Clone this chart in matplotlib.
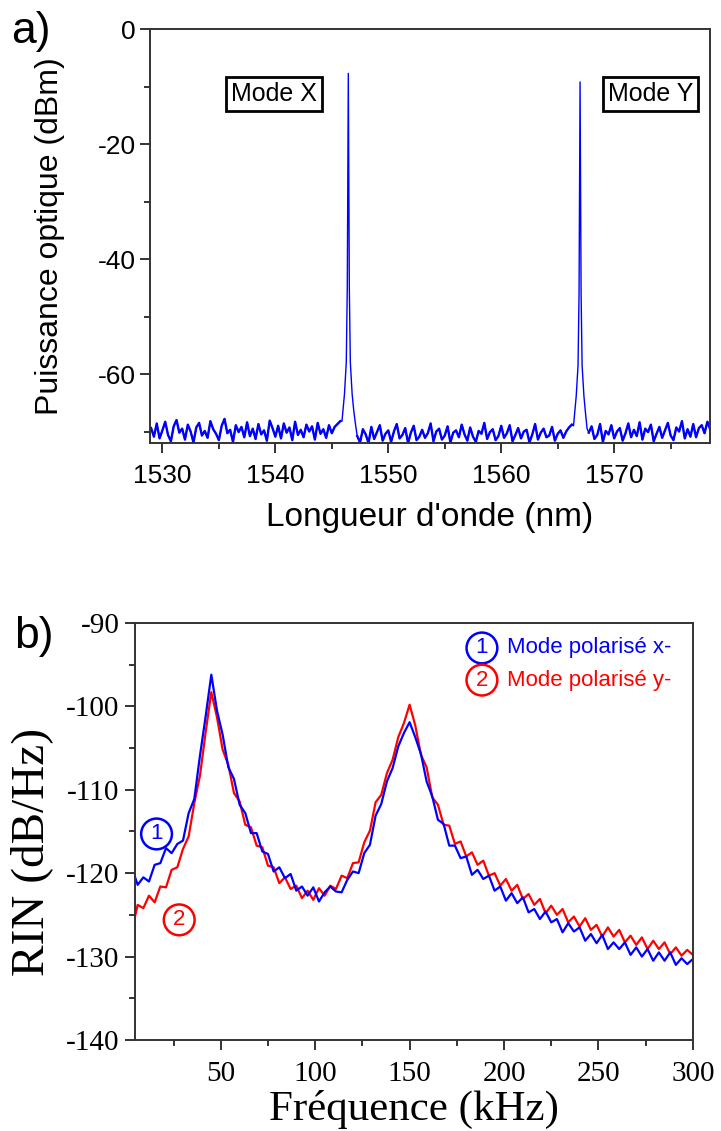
import numpy as np
import matplotlib.pyplot as plt
from matplotlib.ticker import MultipleLocator

plt.rcParams["axes.unicode_minus"] = False

# --- a) optical spectrum ---
floor_left_db = [
    -69.4, -70.9, -68.6, -71.2, -69.8, -68.3, -70.6, -71.7, -69.1, -68.0,
    -70.2, -69.5, -71.4, -68.8, -70.0, -71.9, -69.3, -68.5, -70.7, -69.9,
    -71.1, -68.2, -69.6, -70.4, -71.5, -69.0, -67.8, -70.3, -69.7, -71.8,
    -68.9, -70.1, -69.2, -71.0, -68.4, -70.8, -69.5, -71.3, -68.7, -70.5,
    -69.8, -71.6, -68.1, -69.4, -70.9, -69.0, -71.2, -68.6, -70.2, -69.3,
    -71.5, -68.3, -70.6, -69.7, -71.0, -68.8, -70.0, -69.1, -71.4, -68.5,
    -70.4, -69.6, -71.1, -68.9, -70.3, -69.2, -68.7, -68.2,
]
floor_mid_db = [
    -70.8, -71.9, -69.6, -70.5, -72.0, -69.2, -71.3, -70.1, -68.9, -71.6,
    -70.4, -69.8, -71.8, -70.0, -68.7, -71.2, -70.6, -69.4, -72.0, -70.2,
    -69.0, -71.5, -70.9, -69.7, -71.1, -70.3, -68.6, -71.7, -70.0, -69.5,
    -71.4, -70.7, -69.1, -71.9, -70.2, -69.8, -71.0, -68.8, -70.5, -71.6,
    -69.3, -70.9, -71.8, -69.9, -70.4, -68.5, -71.3, -70.1, -69.6, -71.5,
    -70.8, -69.0, -71.1, -70.3, -68.9, -71.7, -70.6, -69.4, -71.2, -70.0,
    -69.7, -71.9, -70.5, -68.7, -71.4, -70.2, -69.5, -71.0, -70.7, -69.2,
    -71.6, -70.4, -69.8, -71.1, -70.0, -69.3, -68.8,
]
floor_right_db = [
    -70.2, -69.1, -71.3, -70.6, -68.7, -71.8, -69.9, -70.5, -68.9, -71.2,
    -70.0, -69.4, -71.6, -70.3, -68.6, -71.0, -69.7, -70.8, -68.4, -71.4,
    -69.5, -70.1, -68.8, -71.7, -70.4, -69.2, -71.1, -69.8, -68.5, -70.7,
    -71.5, -69.3, -70.0, -68.2, -71.2, -69.6, -70.9, -68.7, -71.0, -69.4,
    -68.9, -70.3, -68.3, -69.6,
]
# OSA sampling grid (0.25 nm) for each floor segment
floor_left_wl = np.linspace(1529.0, 1545.75, len(floor_left_db))
floor_mid_wl = np.linspace(1547.25, 1566.25, len(floor_mid_db))
floor_right_wl = np.linspace(1567.75, 1578.5, len(floor_right_db))

peak_x_wl = [1545.9, 1545.98, 1546.12, 1546.28, 1546.37, 1546.42, 1546.46,
             1546.50, 1546.55, 1546.64, 1546.80, 1546.95, 1547.1]
peak_x_db = [-68.2, -66.5, -63.5, -58.0, -45.0, -25.0, -7.7,
             -25.0, -45.0, -58.0, -63.5, -66.5, -68.8]
peak_y_wl = [1566.4, 1566.5, 1566.64, 1566.8, 1566.89, 1566.94, 1566.98,
             1567.02, 1567.07, 1567.16, 1567.32, 1567.46, 1567.6]
peak_y_db = [-69.0, -66.8, -63.8, -58.5, -46.0, -26.0, -9.2,
             -26.0, -46.0, -58.5, -63.8, -66.8, -69.5]

# --- b) RIN spectra ---
freq_khz = np.r_[4.5, np.arange(6, 301, 3)]
rin_x = [
    -120.4, -121.4, -120.5, -121.0, -119.0, -118.8, -117.0, -117.6, -116.5, -116.1,
    -112.8, -111.1, -105.9, -101.2, -96.2, -100.5, -103.4, -107.3, -108.7, -111.8,
    -112.8, -115.2, -115.2, -117.4, -117.7, -119.8, -119.3, -120.6, -120.1, -122.1,
    -121.6, -122.7, -121.7, -123.4, -122.3, -121.6, -122.2, -122.3, -120.8, -119.8,
    -120.0, -117.6, -116.6, -113.1, -111.7, -109.0, -107.4, -104.8, -103.2, -101.9,
    -103.7, -105.7, -109.0, -110.8, -113.6, -114.1, -116.7, -116.7, -118.2, -118.0,
    -120.2, -119.6, -120.7, -120.3, -122.1, -121.6, -123.3, -122.4, -123.6, -122.9,
    -124.7, -124.3, -125.5, -124.6, -125.9, -125.5, -127.1, -126.0, -127.0, -126.5,
    -128.1, -127.3, -128.4, -127.4, -129.1, -128.3, -129.1, -128.3, -129.8, -128.9,
    -130.0, -129.1, -130.5, -129.5, -130.5, -129.5, -131.0, -130.2, -130.9, -130.3,
]
rin_y = [
    -125.3, -123.8, -124.2, -122.7, -123.5, -121.6, -121.7, -119.6, -119.3, -117.1,
    -115.6, -111.6, -108.3, -103.1, -98.3, -101.3, -105.2, -107.0, -110.4, -111.4,
    -114.2, -114.5, -116.7, -116.9, -119.1, -119.3, -121.2, -120.5, -121.9, -121.5,
    -123.0, -122.1, -123.2, -121.8, -122.7, -121.5, -121.9, -120.3, -120.6, -118.8,
    -118.7, -116.3, -114.9, -111.5, -110.6, -108.0, -106.4, -103.7, -102.0, -99.8,
    -102.3, -105.8, -107.3, -110.9, -111.8, -114.2, -114.3, -116.5, -116.2, -118.0,
    -117.5, -119.0, -118.5, -120.3, -120.0, -121.5, -120.7, -122.1, -121.4, -123.1,
    -122.5, -123.8, -123.1, -124.8, -123.9, -125.0, -124.3, -125.9, -125.2, -126.4,
    -125.4, -126.8, -126.2, -127.6, -126.5, -127.6, -126.8, -128.3, -127.5, -128.6,
    -127.7, -129.1, -128.1, -129.1, -128.3, -129.7, -128.9, -129.9, -129.2, -129.8,
]

wl = np.concatenate([floor_left_wl, peak_x_wl, floor_mid_wl, peak_y_wl, floor_right_wl])
power = np.concatenate([floor_left_db, peak_x_db, floor_mid_db, peak_y_db, floor_right_db])

sans = ["Liberation Sans", "DejaVu Sans"]
serif = ["Liberation Serif", "DejaVu Serif"]


def style_axes(ax):
    for s in ax.spines.values():
        s.set_linewidth(1.4)
        s.set_color("#333333")
    ax.tick_params(which="both", direction="out", top=False, right=False,
                   width=1.4, color="#333333")
    ax.tick_params(which="major", length=7)
    ax.tick_params(which="minor", length=4)


fig = plt.figure(figsize=(7.21, 11.31), dpi=100)

# top panel
ax1 = fig.add_axes([0.208, 0.6083, 0.777, 0.366])
ax1.plot(wl, power, color="blue", lw=1.0)
# the noise floor reads as a thick band in the original
for fwl, fdb in [(floor_left_wl, floor_left_db), (floor_mid_wl, floor_mid_db),
                 (floor_right_wl, floor_right_db)]:
    ax1.plot(fwl, fdb, color="blue", lw=1.7)
ax1.set_xlim(1528.9, 1578.5)
ax1.set_ylim(-72, 0)
ax1.xaxis.set_major_locator(MultipleLocator(10))
ax1.xaxis.set_minor_locator(MultipleLocator(5))
ax1.yaxis.set_major_locator(MultipleLocator(20))
ax1.yaxis.set_minor_locator(MultipleLocator(10))
style_axes(ax1)
ax1.tick_params(axis="x", pad=8)
ax1.tick_params(axis="y", pad=3)
for lab in ax1.get_xticklabels() + ax1.get_yticklabels():
    lab.set_family(sans)
    lab.set_fontsize(19)
ax1.set_xlabel("Longueur d'onde (nm)", family=sans, fontsize=24, labelpad=10)
ax1.set_ylabel("Puissance optique (dBm)", family=sans, fontsize=23)
ax1.yaxis.set_label_coords(-0.152, 0.5)
box = dict(boxstyle="square,pad=0.2", fc="white", ec="black", lw=2)
ax1.text(0.221, 0.843, "Mode X", transform=ax1.transAxes, ha="center", va="center",
         family=sans, fontsize=18, bbox=box)
ax1.text(0.893, 0.843, "Mode Y", transform=ax1.transAxes, ha="center", va="center",
         family=sans, fontsize=18, bbox=box)
fig.text(0.015, 0.99, "a)", family=sans, fontsize=32, va="top", ha="left")

# bottom panel
ax2 = fig.add_axes([0.187, 0.0805, 0.774, 0.3687])
ax2.plot(freq_khz, rin_y, color="red", lw=1.6)
ax2.plot(freq_khz, rin_x, color="blue", lw=1.6)
ax2.set_xlim(4.5, 300)
ax2.set_ylim(-140, -90)
ax2.xaxis.set_major_locator(MultipleLocator(50))
ax2.xaxis.set_minor_locator(MultipleLocator(25))
ax2.yaxis.set_major_locator(MultipleLocator(10))
ax2.yaxis.set_minor_locator(MultipleLocator(5))
style_axes(ax2)
ax2.tick_params(axis="x", pad=8)
ax2.tick_params(axis="y", pad=4)
for lab in ax2.get_xticklabels() + ax2.get_yticklabels():
    lab.set_family(serif)
    lab.set_fontsize(21)
ax2.set_xlabel("Fréquence (kHz)", family=serif, fontsize=31, labelpad=2)
ax2.set_ylabel("RIN (dB/Hz)", family=serif, fontsize=34)
ax2.yaxis.set_label_coords(-0.146, 0.45)

circ_b = dict(boxstyle="circle,pad=0.22", fc="none", ec="blue", lw=1.8)
circ_r = dict(boxstyle="circle,pad=0.22", fc="none", ec="red", lw=1.8)
ax2.text(0.622, 0.940, "1", transform=ax2.transAxes, ha="center", va="center",
         color="blue", family=sans, fontsize=16, bbox=circ_b)
ax2.text(0.667, 0.940, "Mode polarisé x-", transform=ax2.transAxes, ha="left",
         va="center", color="blue", family=sans, fontsize=16)
ax2.text(0.622, 0.863, "2", transform=ax2.transAxes, ha="center", va="center",
         color="red", family=sans, fontsize=16, bbox=circ_r)
ax2.text(0.667, 0.863, "Mode polarisé y-", transform=ax2.transAxes, ha="left",
         va="center", color="red", family=sans, fontsize=16)
ax2.text(16, -115.3, "1", ha="center", va="center", color="blue", family=sans,
         fontsize=16, bbox=circ_b)
ax2.text(28, -125.6, "2", ha="center", va="center", color="red", family=sans,
         fontsize=16, bbox=circ_r)
fig.text(0.02, 0.455, "b)", family=sans, fontsize=32, va="top", ha="left")

fig.savefig("out.png", dpi=100)
